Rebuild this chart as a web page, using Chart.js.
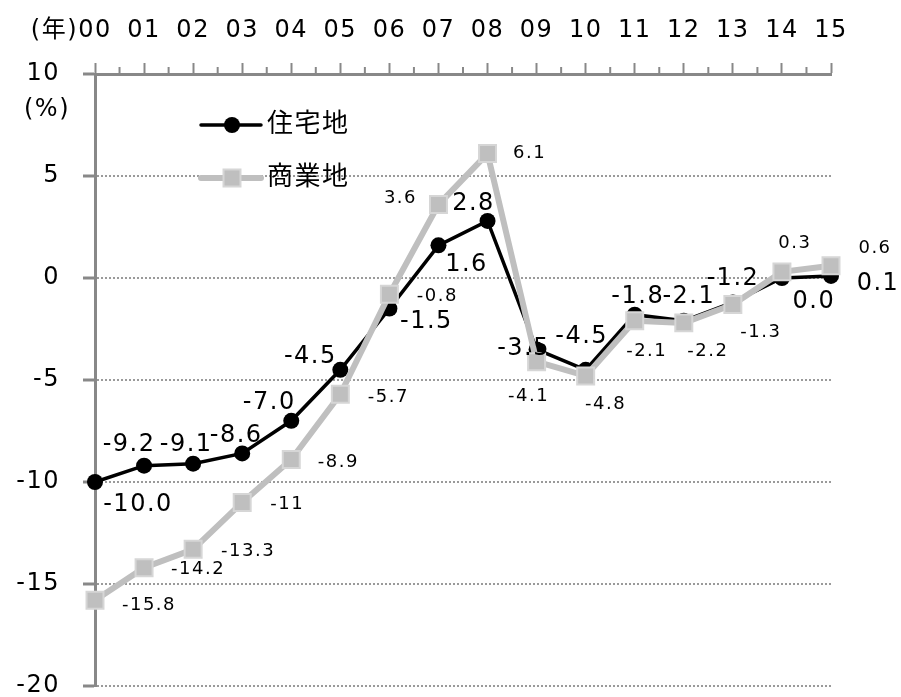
<!DOCTYPE html>
<html>
<head>
<meta charset="utf-8">
<script src="https://cdn.jsdelivr.net/npm/chart.js@4"></script>
<style>
  html, body { margin: 0; padding: 0; background: #fff; }
  #wrap { width: 901px; height: 697px; }
</style>
</head>
<body>
<div id="wrap"><canvas id="chart" width="901" height="697"></canvas></div>
<script>
// 年（2000〜2015）
const years = ['00','01','02','03','04','05','06','07','08','09','10','11','12','13','14','15'];
// 住宅地 / 商業地 の変動率 (%)
const residential = [-10.0, -9.2, -9.1, -8.6, -7.0, -4.5, -1.5, 1.6, 2.8, -3.5, -4.5, -1.8, -2.1, -1.2, 0.0, 0.1];
const commercial = [-15.8, -14.2, -13.3, -11, -8.9, -5.7, -0.8, 3.6, 6.1, -4.1, -4.8, -2.1, -2.2, -1.3, 0.3, 0.6];
const yTicks = [10, 5, 0, -5, -10, -15, -20];

const FONT = '"DejaVu Sans", "Noto Sans CJK JP", sans-serif';
const GRID = '#9a9a9a';
const AXIS = '#888888';

// ラベル位置の微調整（点からのずれ, px）
const resOffsets = [[43,23],[-15,-21],[-7,-19],[-6,-18],[-22,-18],[-30,-13],[37,13],[28,19],
                    [-14,-17],[-13,-1],[-4,-33],[3,-18],[5,-24],[0,-24],[32,24],[47,8]];
const comOffsets = [[54,5],[54,2],[55,2],[45,2],[47,3],[48,3],[48,2],[-38,-6],
                    [42,0],[-8,35],[20,28],[12,30],[24,28],[28,28],[13,-29],[44,-17]];

const extras = {
  id: 'extras',
  beforeDraw(chart) {
    // 元の図の文字は字間が広め
    chart.ctx.letterSpacing = '1.5px';
  },
  afterDraw(chart) {
    const ctx = chart.ctx;
    const x = chart.scales.x;
    const area = chart.chartArea;
    ctx.save();

    // 小目盛り（年の間）
    ctx.strokeStyle = AXIS;
    ctx.lineWidth = 2;
    for (let i = 0; i < years.length - 1; i++) {
      const px = (x.getPixelForValue(i) + x.getPixelForValue(i + 1)) / 2;
      ctx.beginPath();
      ctx.moveTo(px, area.top);
      ctx.lineTo(px, area.top - 7);
      ctx.stroke();
    }

    // (年) と (%)
    ctx.fillStyle = '#000';
    ctx.font = '24px ' + FONT;
    ctx.textBaseline = 'middle';
    ctx.textAlign = 'right';
    ctx.fillText('(年)', 78, 31);
    ctx.textAlign = 'left';
    ctx.fillText('(%)', 24, 110);

    // 凡例
    const rows = [125, 178];
    chart.data.datasets.forEach((ds, k) => {
      const y = rows[k];
      ctx.strokeStyle = ds.borderColor;
      ctx.lineWidth = ds.borderWidth;
      ctx.lineCap = 'round';
      ctx.beginPath();
      ctx.moveTo(201, y);
      ctx.lineTo(261, y);
      ctx.stroke();
      ctx.lineCap = 'butt';
      ctx.fillStyle = ds.pointBackgroundColor;
      ctx.strokeStyle = ds.pointBorderColor;
      ctx.lineWidth = ds.pointBorderWidth;
      ctx.beginPath();
      if (ds.pointStyle === 'rect') {
        const s = ds.pointRadius * Math.SQRT1_2;
        ctx.rect(232 - s, y - s, 2 * s, 2 * s);
      } else {
        ctx.arc(232, y, ds.pointRadius, 0, Math.PI * 2);
      }
      ctx.fill();
      if (ds.pointBorderWidth) ctx.stroke();
      ctx.fillStyle = '#000';
      ctx.font = '26px ' + FONT;
      ctx.textAlign = 'left';
      ctx.fillText(ds.label, 267, y);
    });
    ctx.restore();
  },
  afterDatasetsDraw(chart) {
    const ctx = chart.ctx;
    ctx.save();
    ctx.fillStyle = '#000';
    ctx.textAlign = 'center';
    ctx.textBaseline = 'middle';
    const resMeta = chart.getDatasetMeta(0);
    ctx.font = '24px ' + FONT;
    residential.forEach((v, i) => {
      const p = resMeta.data[i];
      ctx.fillText(v.toFixed(1), p.x + resOffsets[i][0], p.y + resOffsets[i][1]);
    });
    const comMeta = chart.getDatasetMeta(1);
    ctx.font = '18px ' + FONT;
    commercial.forEach((v, i) => {
      const p = comMeta.data[i];
      ctx.fillText(String(v), p.x + comOffsets[i][0], p.y + comOffsets[i][1]);
    });
    ctx.restore();
  }
};

new Chart(document.getElementById('chart'), {
  type: 'line',
  data: {
    labels: years,
    datasets: [{
      label: '住宅地',
      data: residential,
      borderColor: '#000000',
      borderWidth: 3.5,
      pointStyle: 'circle',
      pointRadius: 8,
      pointBackgroundColor: '#000000',
      pointBorderColor: '#000000',
      pointBorderWidth: 0,
      order: 2,
      tension: 0
    }, {
      label: '商業地',
      data: commercial,
      borderColor: '#bfbfbf',
      borderWidth: 6,
      pointStyle: 'rect',
      pointRadius: 12,
      pointBackgroundColor: '#bfbfbf',
      pointBorderColor: '#d6d6d6',
      pointBorderWidth: 2,
      order: 1,
      tension: 0
    }]
  },
  options: {
    responsive: false,
    animation: false,
    devicePixelRatio: 1,
    layout: { autoPadding: false, padding: { top: 0, left: 0, right: 70, bottom: 11 } },
    plugins: { legend: { display: false }, tooltip: { enabled: false } },
    scales: {
      x: {
        position: 'top',
        offset: false,
        afterFit: (s) => {
          s.height = 74;
          s.paddingLeft = 0; s.paddingRight = 0;
        },
        grid: { drawOnChartArea: false, drawTicks: true, tickLength: 11, tickColor: AXIS, tickWidth: 2 },
        border: { color: AXIS, width: 3 },
        ticks: { color: '#000', font: { size: 24, family: FONT }, padding: 18, maxRotation: 0, autoSkip: false }
      },
      y: {
        min: -20,
        max: 10,
        afterFit: (s) => {
          s.width = 95;
          s.paddingTop = 0; s.paddingBottom = 0;
        },
        afterBuildTicks: (s) => { s.ticks = yTicks.map(v => ({ value: v })); },
        grid: { color: GRID, lineWidth: 2, tickBorderDash: [], tickLength: 12, tickColor: AXIS, tickWidth: 3 },
        border: { color: AXIS, width: 3, dash: [2, 2] },
        ticks: { color: '#000', font: { size: 24, family: FONT }, padding: 23 }
      }
    }
  },
  plugins: [extras]
});
</script>
</body>
</html>
